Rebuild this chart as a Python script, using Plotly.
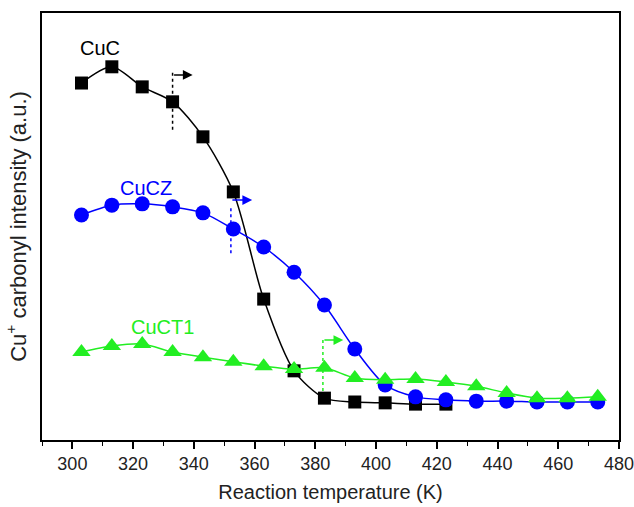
import plotly.graph_objects as go

temp_cuc = [303, 313, 323, 333, 343, 353, 363, 373, 383, 393, 403, 413, 423]
cuc = [83.6, 87.4, 82.7, 79.2, 71.0, 58.1, 33.0, 16.2, 9.8, 8.9, 8.7, 8.4, 8.4]

temp_all = [303, 313, 323, 333, 343, 353, 363, 373, 383, 393, 403, 413, 423, 433, 443, 453, 463, 473]
cucz = [52.7, 55.0, 55.3, 54.6, 53.2, 49.4, 45.2, 39.3, 31.6, 21.3, 12.9, 10.1, 9.4, 9.1, 9.1, 8.9, 8.9, 8.9]
cuct1 = [20.6, 22.0, 22.5, 20.6, 19.4, 18.3, 17.3, 16.6, 16.9, 14.5, 14.1, 14.3, 13.6, 12.6, 11.0, 9.8, 9.8, 10.1]

x_ticks = list(range(300, 481, 20))

BLACK = "#000000"
BLUE = "#0000ff"
GREEN = "#22ee22"
FONT = "Liberation Sans, Arial, Helvetica"

fig = go.Figure()
fig.add_trace(go.Scatter(x=temp_cuc, y=cuc, mode="lines+markers", name="CuC",
                         line=dict(color=BLACK, width=1.5, shape="spline", smoothing=0.8),
                         marker=dict(symbol="square", size=13, color=BLACK)))
fig.add_trace(go.Scatter(x=temp_all, y=cucz, mode="lines+markers", name="CuCZ",
                         line=dict(color=BLUE, width=1.5, shape="spline", smoothing=0.8),
                         marker=dict(symbol="circle", size=15, color=BLUE)))
fig.add_trace(go.Scatter(x=temp_all, y=cuct1, mode="lines+markers", name="CuCT1",
                         line=dict(color=GREEN, width=1.5, shape="spline", smoothing=0.8),
                         marker=dict(symbol="triangle-up", size=16, color=GREEN)))

# dotted markers with arrows
marks = [
    (333.0, 86.0, 72.1, 85.5, 339.6, BLACK),
    (352.2, 54.3, 43.3, 56.2, 359.2, BLUE),
    (382.5, 23.4, 11.2, 23.4, 389.2, GREEN),
]
for xv, y0, y1, ya, xh, col in marks:
    fig.add_shape(type="line", x0=xv, x1=xv, y0=y0, y1=y1, xref="x", yref="y",
                  line=dict(color=col, width=1.5, dash="dot"))
    fig.add_annotation(x=xh, y=ya, ax=xv, ay=ya, xref="x", yref="y", axref="x", ayref="y",
                       showarrow=True, arrowhead=2, arrowsize=1.3, arrowwidth=1.5,
                       arrowcolor=col, text="")

labels = [("CuC", 309.1, 91.8, BLACK), ("CuCZ", 324.2, 59.0, BLUE), ("CuCT1", 329.8, 26.5, GREEN)]
for t, xv, yv, col in labels:
    fig.add_annotation(x=xv, y=yv, text=t, showarrow=False, xref="x", yref="y",
                       font=dict(family=FONT, size=20, color=col))

fig.update_layout(
    width=634, height=507,
    margin=dict(l=42, r=15, t=13, b=67, autoexpand=False),
    paper_bgcolor="white", plot_bgcolor="white",
    showlegend=False,
    font=dict(family=FONT, color="#222222"),
)
fig.update_xaxes(range=[290, 480], tickvals=x_ticks, ticks="outside", ticklen=7, tickwidth=1.5,
                 tickcolor="black", showline=True, linecolor="black", linewidth=1.5, mirror=True,
                 showgrid=False, zeroline=False, tickfont=dict(size=18, color="#222222"),
                 ticklabeloverflow="allow",
                 minor=dict(dtick=10, tick0=290, ticks="outside", ticklen=4, tickwidth=1.2, tickcolor="black"),
                 automargin=False,
                 title=dict(text="Reaction temperature (K)", font=dict(size=20, color="#222222"), standoff=12))
fig.update_yaxes(range=[0, 100], showticklabels=False, ticks="", showline=True, linecolor="black",
                 linewidth=1.5, mirror=True, showgrid=False, zeroline=False, automargin=False,
                 title=dict(text="Cu<sup>+</sup> carbonyl intensity (a.u.)", font=dict(size=22, color="#222222"), standoff=8))

fig.write_html("out.html")
